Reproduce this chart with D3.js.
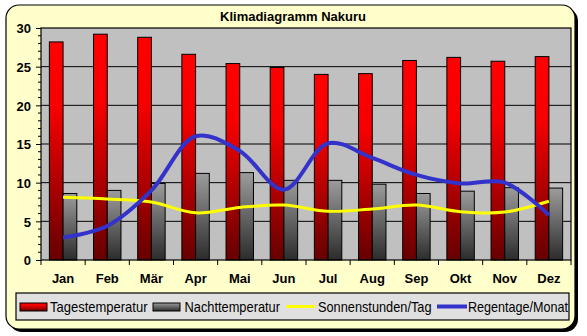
<!DOCTYPE html>
<html><head><meta charset="utf-8">
<script src="https://cdn.jsdelivr.net/npm/d3@7"></script>
<style>body{margin:0;background:#fff}svg{display:block}</style>
</head><body>
<svg id="c" width="587" height="336"></svg>
<script>
const months = ["Jan","Feb","Mär","Apr","Mai","Jun","Jul","Aug","Sep","Okt","Nov","Dez"];
const tagestemperatur = [28.2,29.2,28.8,26.6,25.4,24.9,24.0,24.1,25.8,26.2,25.7,26.3];
const nachttemperatur = [8.6,9.0,9.9,11.2,11.3,10.3,10.3,9.8,8.6,8.9,9.35,9.3];
const sonnenstunden = [8.1,7.9,7.5,6.1,6.8,7.1,6.3,6.6,7.1,6.25,6.2,7.6];
const regentage = [2.9,4.4,9.0,16.0,14.1,9.1,15.1,13.2,11.0,9.9,10.0,5.8];
const yTicks = [0,5,10,15,20,25,30];
const legendLabels = ["Tagestemperatur","Nachttemperatur","Sonnenstunden/Tag","Regentage/Monat"];
const title = "Klimadiagramm Nakuru";

const svg = d3.select("#c");
const font = "'Liberation Sans', Arial, sans-serif";
const defs = svg.append("defs");
function vgrad(id, stops){
  const g = defs.append("linearGradient").attr("id",id).attr("x1",0).attr("y1",0).attr("x2",0).attr("y2",1);
  stops.forEach(s=>g.append("stop").attr("offset",s[0]).attr("stop-color",s[1]));
}
vgrad("gRed",[[0,"#ff0000"],[0.3,"#f60000"],[1,"#660000"]]);
vgrad("gGray",[[0,"#9c9c9c"],[1,"#2c2c2c"]]);

// frame
svg.append("rect").attr("x",9).attr("y",8).attr("width",569).attr("height",324).attr("rx",13).attr("fill","#000");
svg.append("rect").attr("x",6).attr("y",5).attr("width",569).attr("height",324).attr("rx",13)
  .attr("fill","#ffffcc").attr("stroke","#000").attr("stroke-width",1.2);

svg.append("text").attr("x",293).attr("y",21).attr("text-anchor","middle")
  .attr("font-family",font).attr("font-weight","bold").attr("font-size",13).text(title);

const L=41,R=571,T=28,B=260;
const x = d3.scaleBand().domain(months).range([L,R]).padding(0);
const xi = d3.scaleBand().domain(["t","n"]).range([0,x.bandwidth()]).paddingInner(0).paddingOuter(0.61);
const y = d3.scaleLinear().domain([0,30]).range([B,T]);

svg.append("rect").attr("x",L).attr("y",T).attr("width",R-L).attr("height",B-T).attr("fill","#c0c0c0");
// gridlines
svg.append("g").selectAll("line").data(yTicks.filter(d=>d>0&&d<30)).join("line")
  .attr("x1",L).attr("x2",R).attr("y1",d=>y(d)).attr("y2",d=>y(d)).attr("stroke","#000").attr("stroke-width",1);

// bars
const gb = svg.append("g");
gb.selectAll("rect.t").data(months).join("rect").attr("class","t")
  .attr("x",(m)=>x(m)+xi("t")).attr("width",xi.bandwidth())
  .attr("y",(m,i)=>y(tagestemperatur[i])).attr("height",(m,i)=>B-y(tagestemperatur[i]))
  .attr("fill","url(#gRed)").attr("stroke","#000").attr("stroke-width",1);
gb.selectAll("rect.n").data(months).join("rect").attr("class","n")
  .attr("x",(m)=>x(m)+xi("n")).attr("width",xi.bandwidth())
  .attr("y",(m,i)=>y(nachttemperatur[i])).attr("height",(m,i)=>B-y(nachttemperatur[i]))
  .attr("fill","url(#gGray)").attr("stroke","#000").attr("stroke-width",1);

// lines
const line = d3.line().x((d,i)=>x(months[i])+x.bandwidth()/2).y(d=>y(d)).curve(d3.curveCatmullRom.alpha(0.5));
svg.append("path").attr("d",line(sonnenstunden)).attr("fill","none").attr("stroke","#ffff00").attr("stroke-width",3);
svg.append("path").attr("d",line(regentage)).attr("fill","none").attr("stroke","#3333cc").attr("stroke-width",4);

// plot border
svg.append("rect").attr("x",L).attr("y",T).attr("width",R-L).attr("height",B-T).attr("fill","none").attr("stroke","#000").attr("stroke-width",1.2);

// y axis
const ya = d3.axisLeft(y).tickValues(yTicks).tickSize(5).tickPadding(5).tickFormat(d3.format("d"));
const yg = svg.append("g").attr("transform",`translate(${L},0)`).call(ya);
yg.select(".domain").remove();
yg.selectAll("text").attr("font-family",font).attr("font-weight","bold").attr("font-size",13).attr("fill","#000").attr("dy","0.36em");
const minor = d3.range(0,31).filter(d=>d%5!==0);
svg.append("g").selectAll("line").data(minor).join("line")
  .attr("x1",L-3).attr("x2",L).attr("y1",d=>y(d)).attr("y2",d=>y(d)).attr("stroke","#000");

// x axis
const xa = d3.axisBottom(x).tickSize(0).tickPadding(14);
const xg = svg.append("g").attr("transform",`translate(0,${B})`).call(xa);
xg.select(".domain").remove();
xg.selectAll("text").attr("font-family",font).attr("font-weight","bold").attr("font-size",13).attr("fill","#000").attr("dy","0.71em");
svg.append("g").selectAll("line").data(months.concat(["__end"])).join("line")
  .attr("x1",(m,i)=>L+i*x.step()).attr("x2",(m,i)=>L+i*x.step()).attr("y1",B).attr("y2",B+5).attr("stroke","#000");

// legend
svg.append("rect").attr("x",16).attr("y",293).attr("width",553).attr("height",27).attr("fill","#e0e0e0").attr("stroke","#000").attr("stroke-width",1.2);
const lg = svg.append("g");
lg.append("rect").attr("x",20).attr("y",303).attr("width",27).attr("height",8).attr("fill","url(#gRed)").attr("stroke","#000");
lg.append("rect").attr("x",153).attr("y",303).attr("width",27).attr("height",8).attr("fill","url(#gGray)").attr("stroke","#000");
lg.append("line").attr("x1",286).attr("x2",315).attr("y1",306.5).attr("y2",306.5).attr("stroke","#ffff00").attr("stroke-width",3);
lg.append("line").attr("x1",437).attr("x2",467).attr("y1",306.5).attr("y2",306.5).attr("stroke","#3333cc").attr("stroke-width",4);
const lx=[50,184.5,318,468], lw=[97.5,95.5,113.5,100];
lg.selectAll("text").data(legendLabels).join("text")
  .attr("x",(d,i)=>lx[i]).attr("y",311.5).attr("font-family",font).attr("font-size",14.5)
  .attr("textLength",(d,i)=>lw[i]).attr("lengthAdjust","spacingAndGlyphs").text(d=>d);
</script>
</body></html>
